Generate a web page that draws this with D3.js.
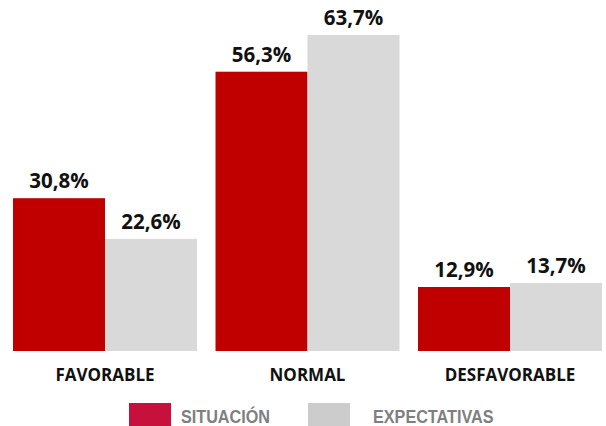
<!DOCTYPE html>
<html>
<head>
<meta charset="utf-8">
<script src="https://cdn.jsdelivr.net/npm/d3@7"></script>
<style>
html,body{margin:0;padding:0;background:#fff;}
svg{display:block;}
</style>
</head>
<body>
<svg id="chart" width="606" height="426"></svg>
<script>
const categories = ["FAVORABLE", "NORMAL", "DESFAVORABLE"];
const seriesNames = ["SITUACIÓN", "EXPECTATIVAS"];
const situacion = [30.8, 56.3, 12.9];
const expectativas = [22.6, 63.7, 13.7];
const valueLabels = [["30,8%", "56,3%", "12,9%"], ["22,6%", "63,7%", "13,7%"]];

const barColors = ["#C00000", "#D9D9D9"];
const legendColors = ["#C8103C", "#CCCCCC"];

const svg = d3.select("#chart");
const baseY = 351;

const x = d3.scaleBand().domain(categories).range([13, 602]).paddingInner(0.0914).paddingOuter(0);
const sub = d3.scaleBand().domain([0, 1]).range([0, x.bandwidth()]).padding(0);
const y = d3.scaleLinear().domain([0, 63.7]).range([baseY, 35]);

const series = [situacion, expectativas];

const groups = svg.selectAll("g.cat").data(categories).join("g")
  .attr("class", "cat")
  .attr("transform", d => `translate(${x(d)},0)`);

groups.each(function(cat, ci) {
  const g = d3.select(this);
  series.forEach((vals, si) => {
    g.append("rect")
      .attr("x", sub(si))
      .attr("y", y(vals[ci]))
      .attr("width", sub.bandwidth())
      .attr("height", baseY - y(vals[ci]))
      .attr("fill", barColors[si]);
    g.append("text")
      .attr("x", sub(si) + sub.bandwidth() / 2)
      .attr("y", y(vals[ci]) - 10)
      .attr("text-anchor", "middle")
      .attr("font-family", "'Open Sans', sans-serif")
      .attr("font-weight", "bold")
      .attr("font-size", "20.5px")
      .attr("fill", "#111")
      .text(valueLabels[si][ci]);
  });
});

const xAxis = d3.axisBottom(x).tickSize(0).tickPadding(0);
const ax = svg.append("g").attr("transform", `translate(0,${baseY})`).call(xAxis);
ax.select(".domain").remove();
ax.selectAll("text")
  .attr("dy", null)
  .attr("y", 30)
  .attr("font-family", "'Open Sans', sans-serif")
  .attr("font-weight", "bold")
  .attr("font-size", "17px")
  .attr("fill", "#111");

// legend
const legendX = [129, 308];
const legendTextX = [181, 373];
const lg = svg.append("g");
seriesNames.forEach((name, i) => {
  lg.append("rect")
    .attr("x", legendX[i]).attr("y", 403)
    .attr("width", 42).attr("height", 23)
    .attr("fill", legendColors[i]);
  lg.append("text")
    .attr("transform", `translate(${legendTextX[i]},423) scale(0.9,1)`)
    .attr("font-family", "'Liberation Sans', Arial, sans-serif")
    .attr("font-weight", "bold")
    .attr("font-size", "18px")
    .attr("fill", "#7F7F7F")
    .text(name);
});
</script>
</body>
</html>
